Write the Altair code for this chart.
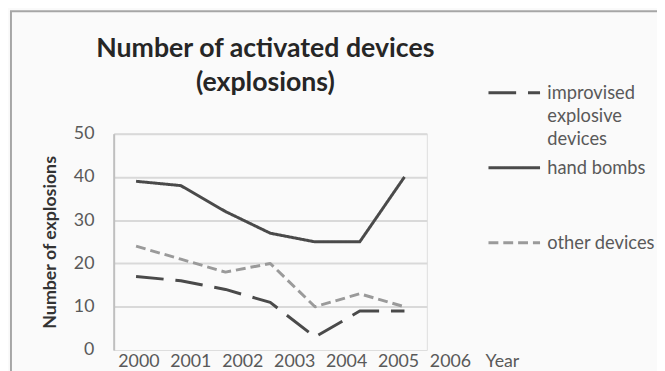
import altair as alt
import pandas as pd

years = ["2000", "2001", "2002", "2003", "2004", "2005", "2006"]
improvised = [17, 16, 14, 11, 3, 9, 9]
hand_bombs = [39, 38, 32, 27, 25, 25, 40]
other_devices = [24, 21, 18, 20, 10, 13, 10]
series_names = ["improvised explosive devices", "hand bombs", "other devices"]
x_labels = years + ["Year"]
y_ticks = [0, 10, 20, 30, 40, 50]

rows = []
for name, vals in zip(series_names, [improvised, hand_bombs, other_devices]):
    for yr, v in zip(years, vals):
        rows.append({"year": yr, "value": v, "series": name})
df = pd.DataFrame(rows)
lab_df = pd.DataFrame({"label": x_labels})

FONT = "Lato"
LABEL_COLOR = "#595959"

label_expr = (
    "datum.label == 'improvised explosive devices' ? ['improvised', 'explosive', 'devices'] : "
    "datum.label == 'hand bombs' ? ['hand bombs', '\u00a0', '\u00a0'] : datum.label"
)

legend = alt.Legend(
    title=None, orient="none", legendX=386, legendY=-61,
    symbolType="M-1.45,0H1.45", symbolSize=1296, symbolStrokeWidth=3,
    labelFont=FONT, labelFontSize=18.5, labelColor=LABEL_COLOR,
    labelOffset=14, rowPadding=0, padding=0, labelLimit=300,
    labelExpr=label_expr,
)

frame = alt.Chart(pd.DataFrame({"a": [0]})).mark_rect(
    fill="transparent", stroke="#a6a6a6", strokeWidth=2
).encode(
    x=alt.value(-104), x2=alt.value(570), y=alt.value(-124), y2=alt.value(260)
)

lines = alt.Chart(df).mark_line(strokeWidth=3, strokeCap="butt", strokeJoin="round").encode(
    x=alt.X("year:O", axis=None, scale=alt.Scale(domain=years)),
    y=alt.Y(
        "value:Q",
        scale=alt.Scale(domain=[0, 50], nice=False),
        axis=alt.Axis(
            values=y_ticks, title="Number of explosions",
            titleFont=FONT, titleFontSize=18, titleFontWeight="bold", titleColor="#333333",
            titlePadding=14,
            labelFont=FONT, labelFontSize=18, labelColor=LABEL_COLOR, labelPadding=20,
            ticks=False, domainColor="#bfbfbf", domainWidth=2,
            gridColor="#d9d9d9", gridWidth=2,
            gridOpacity={"condition": {"test": "datum.value === 0", "value": 0}, "value": 1},
        ),
    ),
    color=alt.Color(
        "series:N",
        scale=alt.Scale(domain=series_names, range=["#4a4a4a", "#4a4a4a", "#9a9a9a"]),
        legend=legend,
    ),
    strokeDash=alt.StrokeDash(
        "series:N",
        scale=alt.Scale(domain=series_names, range=[[28, 12], [1, 0], [10, 5]]),
        legend=legend,
    ),
)

xlab = alt.Chart(lab_df).mark_point(opacity=0).encode(
    x=alt.X(
        "label:N", sort=None,
        scale=alt.Scale(domain=x_labels, range=[25, 393], padding=0),
        axis=alt.Axis(
            title=None, domain=False, ticks=False, grid=False, labelAngle=0,
            labelFont=FONT, labelFontSize=18, labelColor=LABEL_COLOR, labelPadding=3,
        ),
    )
)

chart = alt.layer(frame, lines, xlab).resolve_scale(x="independent").properties(
    width=317, height=219,
    autosize=alt.AutoSizeParams(type="none"),
    padding={"left": 107, "top": 125, "right": 233, "bottom": 19},
    background="#fafafa",
    title=alt.TitleParams(
        text=["Number of activated devices", "(explosions)"],
        font=FONT, fontSize=27, fontWeight="bold", color="#262626",
        lineHeight=35, anchor="middle", frame="group", offset=-88, dx=-5,
    ),
).configure_view(strokeWidth=0).configure(style={"guide-label": {"lineHeight": 23.5}})

chart.save("out.html", embed_options={"renderer": "svg", "actions": False})
